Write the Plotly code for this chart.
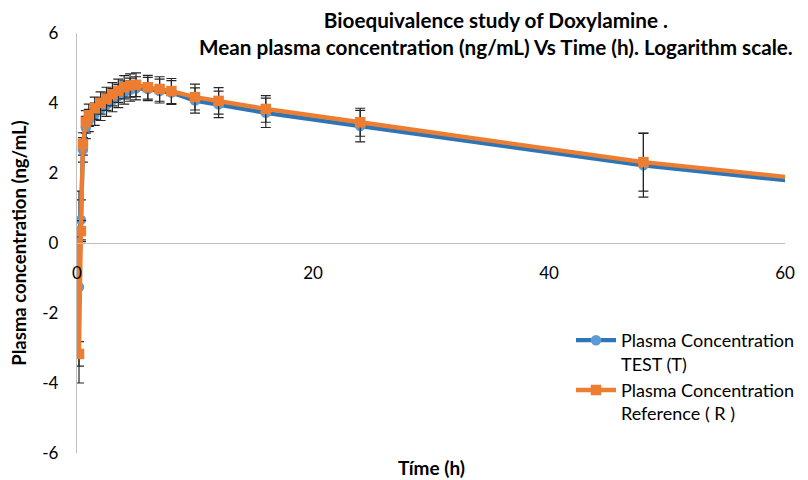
import plotly.graph_objects as go

# ---- data ----
times = [0, 0.17, 0.33, 0.5, 0.75, 1, 1.5, 2, 2.5, 3, 3.5, 4, 4.5, 5, 6, 7, 8, 10, 12, 16, 24, 48, 72]
test_vals = [0.0, -1.26, 0.66, 2.66, 3.30, 3.50, 3.68, 3.82, 3.95, 4.08, 4.20, 4.30, 4.38, 4.42,
             4.40, 4.34, 4.30, 4.07, 3.96, 3.72, 3.34, 2.22, 1.37]
test_err = [0.37, 2.74, 0.57, 0.35, 0.32, 0.32, 0.32, 0.32, 0.33, 0.33, 0.33, 0.33, 0.33, 0.33,
            0.33, 0.34, 0.34, 0.36, 0.38, 0.42, 0.45, 0.91, 1.0]
ref_vals = [0.0, -3.17, 0.34, 2.83, 3.46, 3.65, 3.85, 4.00, 4.12, 4.25, 4.35, 4.45, 4.50, 4.52,
            4.45, 4.40, 4.34, 4.17, 4.06, 3.83, 3.45, 2.31, 1.47]
ref_err = [0.37, 0.35, 0.30, 0.32, 0.32, 0.32, 0.32, 0.32, 0.33, 0.33, 0.33, 0.33, 0.33, 0.34,
           0.34, 0.35, 0.36, 0.37, 0.38, 0.38, 0.40, 0.83, 1.0]
x_ticks = [0, 20, 40, 60]
y_ticks = [-6, -4, -2, 0, 2, 4, 6]
y_tick_text = ["-6", "-4", "-2", "0", "2", "4", "6"]
name_test = "Plasma Concentration<br>TEST (T)"
name_ref = "Plasma Concentration<br>Reference ( R )"
title_text = "Bioequivalence study of Doxylamine .<br>Mean plasma concentration (ng/mL) Vs Time (h). Logarithm scale."
x_title = "Tíme (h)"
y_title = "Plasma concentration (ng/mL)"

FONT = "Lato"
OFF = 8  # page body margin
W, H = 808 - OFF, 480 - OFF
L, R, T, B = 77 - OFF, 23, 33 - OFF, 27
PW = W - L - R
PH = H - T - B

def px_x(p):
    return (p - OFF - L) / PW

def px_y(p):
    return (H - B - (p - OFF)) / PH

fig = go.Figure()
fig.add_trace(go.Scatter(
    x=times, y=test_vals, name=name_test, mode="lines+markers",
    line=dict(color="#2E75B6", width=4.3),
    marker=dict(symbol="circle", size=10.5, color="#5B9BD5"),
    error_y=dict(type="data", array=test_err, visible=True, color="#262626", thickness=1.2, width=5),
))
fig.add_trace(go.Scatter(
    x=times, y=ref_vals, name=name_ref, mode="lines+markers",
    line=dict(color="#ED7D31", width=4.3),
    marker=dict(symbol="square", size=10.5, color="#ED7D31"),
    error_y=dict(type="data", array=ref_err, visible=True, color="#262626", thickness=1.2, width=5),
))

fig.update_layout(
    width=W, height=H,
    margin=dict(l=L, r=R, t=T, b=B, autoexpand=False),
    paper_bgcolor="white", plot_bgcolor="white",
    font=dict(family=FONT, size=17, color="#000000"),
    showlegend=True,
    legend=dict(x=px_x(571), y=px_y(322), xanchor="left", yanchor="top",
                font=dict(family=FONT, size=18, color="#000000"),
                bgcolor="rgba(0,0,0,0)", valign="top", tracegroupgap=25, itemwidth=40),
    xaxis=dict(range=[0, 60], tickvals=x_ticks, showgrid=False, zeroline=False,
               showline=True, linecolor="#BFBFBF", linewidth=1.3, automargin=False,
               anchor="free", position=0.5, ticks="", ticklabelstandoff=14,
               tickfont=dict(family=FONT, size=17, color="#000000")),
    yaxis=dict(range=[-6, 6], tickvals=y_ticks, ticktext=y_tick_text, showgrid=False, zeroline=False,
               showline=True, linecolor="#BFBFBF", linewidth=1.3, ticks="", automargin=False,
               ticklabelstandoff=14,
               tickfont=dict(family=FONT, size=17, color="#000000"),
               title=dict(text="<b>" + y_title + "</b>", standoff=12,
                          font=dict(family=FONT, size=18.5, color="#000000"))),
    annotations=[
        dict(text="<b>" + title_text + "</b>", xref="paper", yref="paper",
             x=px_x(496), y=px_y(33), xanchor="center", yanchor="middle", showarrow=False,
             align="center",
             font=dict(family=FONT, size=20.7, color="#000000")),
        dict(text="<b>" + x_title + "</b>", xref="paper", yref="paper",
             x=px_x(431), y=px_y(467), xanchor="center", yanchor="middle", showarrow=False,
             font=dict(family=FONT, size=19, color="#000000")),
    ],
)

fig.write_html("out.html")
